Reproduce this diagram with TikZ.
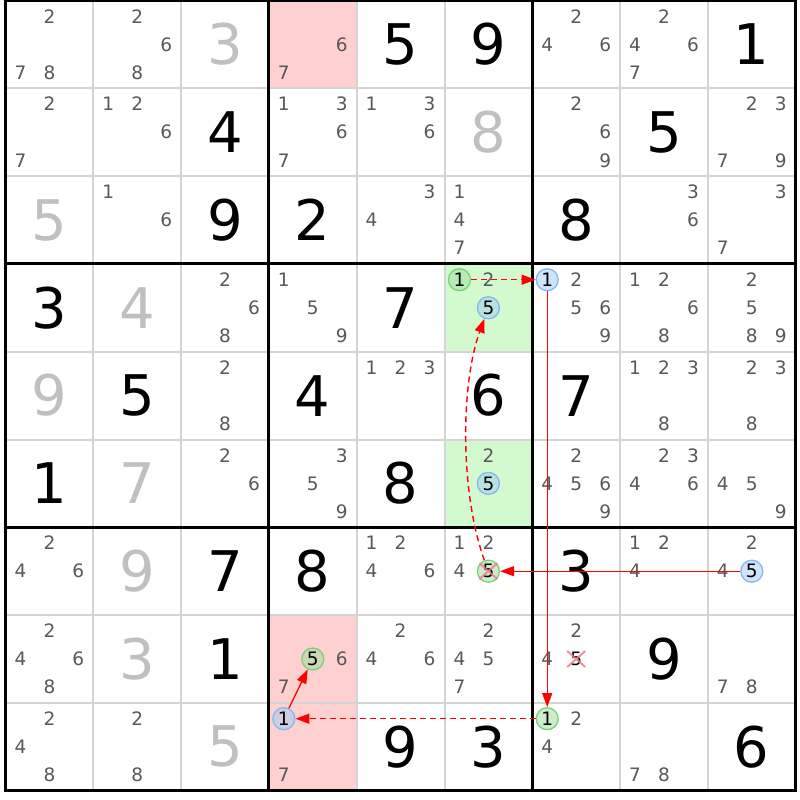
\documentclass[tikz,border=0pt]{standalone}
\usepackage{fontspec}
\setmainfont{DejaVu Sans}
\usetikzlibrary{arrows.meta,shapes.misc}
\definecolor{candgray}{RGB}{88,88,88}
\definecolor{solvedgray}{RGB}{192,192,192}
\definecolor{gridgray}{RGB}{212,212,212}
\definecolor{cellpink}{RGB}{255,208,208}
\definecolor{cellgreen}{RGB}{210,250,206}
\definecolor{ongreen}{RGB}{120,210,120}
\definecolor{onblue}{RGB}{130,185,240}
\definecolor{linkred}{RGB}{255,0,0}
\definecolor{crosspink}{RGB}{240,120,130}
\begin{document}
\begin{tikzpicture}[x=87.8pt, y=-87.8pt,
    given/.style={node font=\fontsize{56}{56}\selectfont, inner sep=0pt},
    solved/.style={given, text=solvedgray},
    cand/.style={node font=\fontsize{18.5}{18.5}\selectfont, inner sep=0pt, text=candgray},
    oncand/.style={cand, text=black, circle, minimum size=22pt, draw=ongreen, line width=1.3pt,
      fill=ongreen!70, fill opacity=0.55, text opacity=1, draw opacity=1},
    offcand/.style={oncand, draw=onblue, fill=onblue!70},
    elim/.style={cross out, draw=crosspink, line width=2pt, minimum width=16pt, minimum height=14pt,
      inner sep=0pt, draw opacity=0.8},
    strong/.style={linkred, line width=1.3pt, -{Triangle[length=14pt,width=10pt]}},
    weak/.style={strong, line width=1.4pt, dash pattern=on 6pt off 4pt}]
  \useasboundingbox (-0.0626,-0.0057) rectangle (9.049,9.1059);
  \fill[cellpink] (3,0) rectangle (4,1) (3,7) rectangle (4,9);
  \fill[cellgreen] (5,3) rectangle (6,4) (5,5) rectangle (6,6);
  \foreach \k in {1,2,4,5,7,8} {
    \draw[gridgray, line width=2pt] (\k,0) -- (\k,9);
    \draw[gridgray, line width=2pt] (0,\k) -- (9,\k);
  }
  \foreach \k in {3,6} {
    \draw[line width=3pt] (\k,0) -- (\k,9);
    \draw[line width=3pt] (0,\k) -- (9,\k);
  }
  \draw[line width=3pt] (0,0) rectangle (9,9);

  \foreach \r/\c/\d in {1/5/5, 1/6/9, 1/9/1, 2/3/4, 2/8/5, 3/3/9, 3/4/2, 3/7/8,
      4/1/3, 4/5/7, 5/2/5, 5/4/4, 5/6/6, 5/7/7, 6/1/1, 6/5/8,
      7/3/7, 7/4/8, 7/7/3, 8/3/1, 8/8/9, 9/5/9, 9/6/3, 9/9/6}
    \node[given] at (\c-0.5,\r-0.5) {\d};
  \foreach \r/\c/\d in {1/3/3, 2/6/8, 3/1/5, 4/2/4, 5/1/9, 6/2/7, 7/2/9, 8/2/3, 9/3/5}
    \node[solved] at (\c-0.5,\r-0.5) {\d};
  \foreach \r/\c/\ds in {1/1/{2,7,8}, 1/2/{2,6,8}, 1/4/{6,7}, 1/7/{2,4,6}, 1/8/{2,4,6,7},
      2/1/{2,7}, 2/2/{1,2,6}, 2/4/{1,3,6,7}, 2/5/{1,3,6}, 2/7/{2,6,9}, 2/9/{2,3,7,9},
      3/2/{1,6}, 3/5/{3,4}, 3/6/{1,4,7}, 3/8/{3,6}, 3/9/{3,7},
      4/3/{2,6,8}, 4/4/{1,5,9}, 4/6/{2}, 4/7/{2,5,6,9}, 4/8/{1,2,6,8}, 4/9/{2,5,8,9},
      5/3/{2,8}, 5/5/{1,2,3}, 5/8/{1,2,3,8}, 5/9/{2,3,8},
      6/3/{2,6}, 6/4/{3,5,9}, 6/6/{2}, 6/7/{2,4,5,6,9}, 6/8/{2,3,4,6}, 6/9/{4,5,9},
      7/1/{2,4,6}, 7/5/{1,2,4,6}, 7/6/{1,2,4}, 7/8/{1,2,4}, 7/9/{2,4},
      8/1/{2,4,6,8}, 8/4/{6,7}, 8/5/{2,4,6}, 8/6/{2,4,5,7}, 8/7/{2,4}, 8/9/{7,8},
      9/1/{2,4,8}, 9/2/{2,8}, 9/4/{7}, 9/7/{2,4}, 9/8/{7,8}}
    \foreach \d in \ds
      \node[cand] at ({\c-0.5+0.33*(mod(\d-1,3)-1)},{\r-0.5+0.32*(floor((\d-1)/3)-1)}) {\d};

  \node[oncand] (r4c6n1) at (5.17,3.18) {1};
  \node[offcand] (r4c6n5) at (5.5,3.5) {5};
  \node[offcand] (r6c6n5) at (5.5,5.5) {5};
  \node[offcand] (r4c7n1) at (6.17,3.18) {1};
  \node[oncand] (r9c7n1) at (6.17,8.18) {1};
  \node[offcand] (r9c4n1) at (3.17,8.18) {1};
  \node[oncand] (r8c4n5) at (3.5,7.5) {5};
  \node[offcand] (r7c9n5) at (8.5,6.5) {5};
  \node[oncand] (r7c6n5) at (5.5,6.5) {5};
  \node[cand, text=black] (r8c7n5) at (6.5,7.5) {5};
  \node[elim] at (r7c6n5) {};
  \node[elim] at (r8c7n5) {};

  \draw[weak] (r4c6n1) -- (r4c7n1);
  \draw[strong] (r4c7n1) -- (r9c7n1);
  \draw[weak] (r9c7n1) -- (r9c4n1);
  \draw[strong] (r9c4n1) -- (r8c4n5);
  \draw[strong] (r7c9n5) -- (r7c6n5);
  \draw[weak] (r7c6n5) to[bend left=20, looseness=0.75] (r4c6n5);
\end{tikzpicture}
\end{document}
